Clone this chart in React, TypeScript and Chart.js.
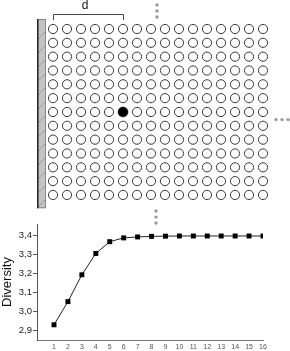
import React, { useEffect, useRef } from 'react';
import { Chart, registerables } from 'chart.js';

Chart.register(...registerables);

const FONT = '"Liberation Sans", Arial, Helvetica, sans-serif';

// ---- lattice (top diagram) ----
const gridColumns = [1, 2, 3, 4, 5, 6, 7, 8, 9, 10, 11, 12, 13, 14, 15, 16];
const gridRows = [1, 2, 3, 4, 5, 6, 7, 8, 9, 10, 11, 12, 13];
const occupiedCell = { x: 6, y: 7 };
const ellipsisTop = [
  { x: 8.43, y: -0.74 },
  { x: 8.43, y: -0.3 },
  { x: 8.43, y: 0.13 },
];
const ellipsisRight = [
  { x: 16.93, y: 7.55 },
  { x: 17.36, y: 7.55 },
  { x: 17.79, y: 7.55 },
];
const ellipsisBottom = [
  { x: 8.36, y: 14.16 },
  { x: 8.36, y: 14.6 },
  { x: 8.36, y: 15.03 },
];
const bracketLabel = 'd';
const bracketFrom = 1;
const bracketTo = 6;

// ---- diversity curve (bottom chart) ----
const distances = [1, 2, 3, 4, 5, 6, 7, 8, 9, 10, 11, 12, 13, 14, 15, 16];
const diversity = [2.93, 3.052, 3.193, 3.305, 3.367, 3.387, 3.392, 3.395, 3.396, 3.397, 3.397, 3.397, 3.397, 3.397, 3.397, 3.397];
const yAxisTitle = 'Diversity';

const wallPlugin = {
  id: 'wallPlugin',
  beforeDatasetsDraw(chart: any) {
    const { ctx } = chart;
    const xs = chart.scales.x;
    const ys = chart.scales.y;
    const px = (v: number) => xs.getPixelForValue(v);
    const py = (v: number) => ys.getPixelForValue(v);
    ctx.save();
    // wall
    const l = px(-0.14), r = px(0.5), t = py(0.28), b = py(13.96);
    ctx.fillStyle = '#c3c3c3';
    ctx.fillRect(l, t, r - l, b - t);
    ctx.strokeStyle = '#8a8a8a';
    ctx.lineWidth = 1;
    ctx.strokeRect(l + 0.5, t + 0.5, r - l - 1, b - t - 1);
    // hatch
    ctx.save();
    ctx.beginPath();
    ctx.rect(l, t, r - l, b - t);
    ctx.clip();
    ctx.strokeStyle = '#8f8f8f';
    ctx.lineWidth = 0.8;
    for (let y = t + 12; y < b + 10; y += 14) {
      ctx.beginPath();
      ctx.moveTo(l, y + 9);
      ctx.lineTo(r, y);
      ctx.stroke();
    }
    ctx.restore();
    ctx.strokeStyle = '#222';
    ctx.lineWidth = 1.5;
    ctx.beginPath();
    ctx.moveTo(l + 0.75, t);
    ctx.lineTo(l + 0.75, b);
    ctx.stroke();
    // bracket
    const bx1 = px(bracketFrom), bx2 = px(bracketTo);
    const by = Math.round(py(-0.08)) + 0.5, byTick = py(0.35);
    ctx.strokeStyle = '#444';
    ctx.lineWidth = 1;
    ctx.beginPath();
    ctx.moveTo(Math.round(bx1) + 0.5, byTick);
    ctx.lineTo(Math.round(bx1) + 0.5, by);
    ctx.lineTo(Math.round(bx2) + 0.5, by);
    ctx.lineTo(Math.round(bx2) + 0.5, byTick);
    ctx.stroke();
    ctx.fillStyle = '#111';
    ctx.font = `12px ${FONT}`;
    ctx.textAlign = 'center';
    ctx.textBaseline = 'middle';
    ctx.fillText(bracketLabel, px(3.3), py(-0.66));
    ctx.restore();
  },
};

export default function App() {
  const gridRef = useRef<HTMLCanvasElement>(null);
  const lineRef = useRef<HTMLCanvasElement>(null);

  useEffect(() => {
    document.body.style.margin = '0';
    const cells: { x: number; y: number }[] = [];
    gridRows.forEach((row) =>
      gridColumns.forEach((col) => {
        if (!(col === occupiedCell.x && row === occupiedCell.y)) cells.push({ x: col, y: row });
      })
    );

    const grid = new Chart(gridRef.current!, {
      type: 'scatter',
      data: {
        datasets: [
          {
            data: cells,
            pointRadius: 4.6,
            pointBackgroundColor: '#fff',
            pointBorderColor: '#3a3a3a',
            pointBorderWidth: 1,
            clip: false,
          } as any,
          {
            data: [occupiedCell],
            pointRadius: 5,
            pointBackgroundColor: '#000',
            pointBorderColor: '#000',
            pointBorderWidth: 0.5,
            clip: false,
          } as any,
          {
            data: [...ellipsisTop, ...ellipsisRight, ...ellipsisBottom],
            pointRadius: 1.7,
            pointBackgroundColor: '#9a9a9a',
            pointBorderColor: '#9a9a9a',
            pointBorderWidth: 0,
            clip: false,
          } as any,
        ],
      },
      options: {
        animation: false,
        responsive: false,
        devicePixelRatio: 1,
        events: [],
        layout: { padding: 0, autoPadding: false },
        plugins: { legend: { display: false }, tooltip: { enabled: false } },
        scales: {
          x: { type: 'linear', display: false, min: -39 / 14, max: 251 / 14 },
          y: { type: 'linear', display: false, reverse: true, min: -15.17 / 13.83, max: 335.83 / 13.83 },
        },
      },
      plugins: [wallPlugin],
    });

    const line = new Chart(lineRef.current!, {
      type: 'line',
      data: {
        datasets: [
          {
            data: distances.map((d, i) => ({ x: d, y: diversity[i] })),
            borderColor: '#222',
            borderWidth: 1,
            pointStyle: 'rect',
            pointRadius: 3.5,
            pointBackgroundColor: '#000',
            pointBorderColor: '#000',
            pointBorderWidth: 0,
            tension: 0,
            fill: false,
          } as any,
        ],
      },
      options: {
        animation: false,
        responsive: false,
        devicePixelRatio: 1,
        events: [],
        layout: { padding: { top: 224, right: 27, left: 0, bottom: 0 } },
        plugins: { legend: { display: false }, tooltip: { enabled: false } },
        scales: {
          x: {
            type: 'linear',
            min: -0.22,
            max: 16,
            afterFit: (s: any) => {
              s.height = 11;
            },
            grid: { display: false, drawTicks: false },
            border: { display: true, color: '#777', width: 1 },
            ticks: {
              stepSize: 1,
              includeBounds: false,
              autoSkip: false,
              maxRotation: 0,
              padding: 3,
              color: '#555',
              font: { size: 7, family: FONT },
              callback: (v: any) => (distances.includes(v) ? String(v) : ''),
            },
          },
          y: {
            type: 'linear',
            min: 2.85,
            max: 3.46,
            afterFit: (s: any) => {
              s.width = 37;
            },
            grid: { display: true, drawOnChartArea: false, drawTicks: true, tickLength: 4, color: '#555' },
            border: { display: true, color: '#555', width: 1 },
            ticks: {
              stepSize: 0.1,
              includeBounds: false,
              padding: 1,
              color: '#222',
              font: { size: 9.5, family: FONT },
              callback: (v: any) => Number(v).toFixed(1).replace('.', ','),
            },
            title: { display: true, text: yAxisTitle, color: '#111', padding: 0, font: { size: 13, family: FONT } },
          },
        },
      },
    });

    return () => {
      grid.destroy();
      line.destroy();
    };
  }, []);

  const canvasStyle: React.CSSProperties = { position: 'absolute', left: 0, top: 0, width: 290, height: 351 };
  return (
    <div style={{ position: 'fixed', left: 0, top: 0, width: 290, height: 351, background: '#fff' }}>
      <canvas ref={gridRef} width={290} height={351} style={canvasStyle} />
      <canvas ref={lineRef} width={290} height={351} style={canvasStyle} />
    </div>
  );
}
